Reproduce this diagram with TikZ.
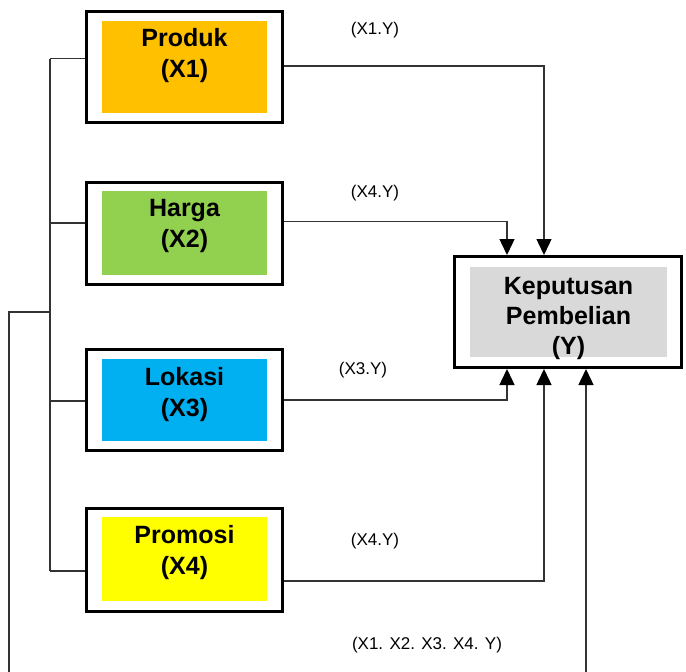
\documentclass[tikz,border=0pt]{standalone}
\usepackage{fontspec}
\setmainfont{Liberation Sans}
\usepackage{pgf,tikz}
\usetikzlibrary{arrows.meta}
\usetikzlibrary{positioning}

\definecolor{produkcol}{HTML}{FFC000}
\definecolor{hargacol}{HTML}{92D050}
\definecolor{lokasicol}{HTML}{00B0F0}
\definecolor{promosicol}{HTML}{FFFF00}
\definecolor{keputusancol}{HTML}{D9D9D9}
\definecolor{linegray}{HTML}{333333}

\tikzset{
  outerbox/.style={draw=black, line width=3pt, minimum width=196pt, inner sep=0pt},
  innerbox/.style={fill=#1, minimum width=165pt, inner sep=0pt},
  boxtext/.style={anchor=north, align=center, inner sep=0pt,
    font=\bfseries\fontsize{25}{31}\selectfont},
  link/.style={draw=linegray, line width=1.4pt},
  arrowlink/.style={link, -{Triangle[width=15pt,length=16pt,color=black]}},
  pathlabel/.style={font=\fontsize{17}{20}\selectfont, inner sep=0pt}
}

\begin{document}
\begin{tikzpicture}[x=1pt,y=-1pt]

\useasboundingbox (0,0) rectangle (686,672);

% variable boxes
\node[outerbox, minimum height=111pt] (produk) at (184.5,67) {};
\node[innerbox=produkcol, minimum height=92pt] (produkin) at (184.5,67) {};
\node[boxtext] (produktxt) at ([yshift=-7pt]produkin.north) {Produk\\(X1)};

\node[outerbox, minimum height=102pt] (harga) at (184.5,233.5) {};
\node[innerbox=hargacol, minimum height=84pt] (hargain) at (184.5,233) {};
\node[boxtext] (hargatxt) at ([yshift=-8pt]hargain.north) {Harga\\(X2)};

\node[outerbox, minimum height=101pt] (lokasi) at (184.5,400) {};
\node[innerbox=lokasicol, minimum height=82pt] (lokasiin) at (184.5,400) {};
\node[boxtext] (lokasitxt) at ([yshift=-8pt]lokasiin.north) {Lokasi\\(X3)};

\node[outerbox, minimum height=103pt] (promosi) at (184.5,560) {};
\node[innerbox=promosicol, minimum height=84pt] (promosiin) at (184.5,559) {};
\node[boxtext] (promositxt) at ([yshift=-8pt]promosiin.north) {Promosi\\(X4)};

% dependent variable
\node[outerbox, minimum width=227pt, minimum height=111pt] (keputusan) at (568,312) {};
\node[innerbox=keputusancol, minimum width=197pt, minimum height=90pt] (keputusanin) at (568.5,312) {};
\node[boxtext, font=\bfseries\fontsize{25}{30}\selectfont] (keputusantxt)
  at ([yshift=-10pt]keputusanin.north) {Keputusan\\Pembelian\\(Y)};

% left bracket
\coordinate (spine1) at (50,58.5);
\coordinate (spine2) at (50,223);
\coordinate (spine3) at (50,401);
\coordinate (spine4) at (50,571);
\coordinate (spinejoin) at (50,312);
\coordinate (loopL) at (9,672);
\coordinate (loopR) at (586,672);

\draw[link] (spine1) -- (spine4);
\draw[link] (spine1) -- (spine1 -| produk.west);
\draw[link] (spine2) -- (spine2 -| harga.west);
\draw[link] (spine3) -- (spine3 -| lokasi.west);
\draw[link] (spine4) -- (spine4 -| promosi.west);

% paths to Y
\draw[arrowlink] ([yshift=1pt]produk.east) -| ([xshift=-24pt]keputusan.north);
\draw[arrowlink] ([yshift=12pt]harga.east) -| ([xshift=-61pt]keputusan.north);
\draw[arrowlink] (lokasi.east) -| ([xshift=-61pt]keputusan.south);
\draw[arrowlink] ([yshift=-21pt]promosi.east) -| ([xshift=-24pt]keputusan.south);

% simultaneous path
\draw[link] (loopL) |- (spinejoin);
\draw[arrowlink] (loopR) -- (loopR |- keputusan.south);

% path labels
\node[pathlabel] (lbl1) at (375,30) {(X1.Y)};
\node[pathlabel] (lbl2) at (375,193) {(X4.Y)};
\node[pathlabel] (lbl3) at (363,370) {(X3.Y)};
\node[pathlabel] (lbl4) at (375,541) {(X4.Y)};
\node[pathlabel] (lbl5) at (427,645) {(X1. X2. X3. X4. Y)};

\end{tikzpicture}
\end{document}
